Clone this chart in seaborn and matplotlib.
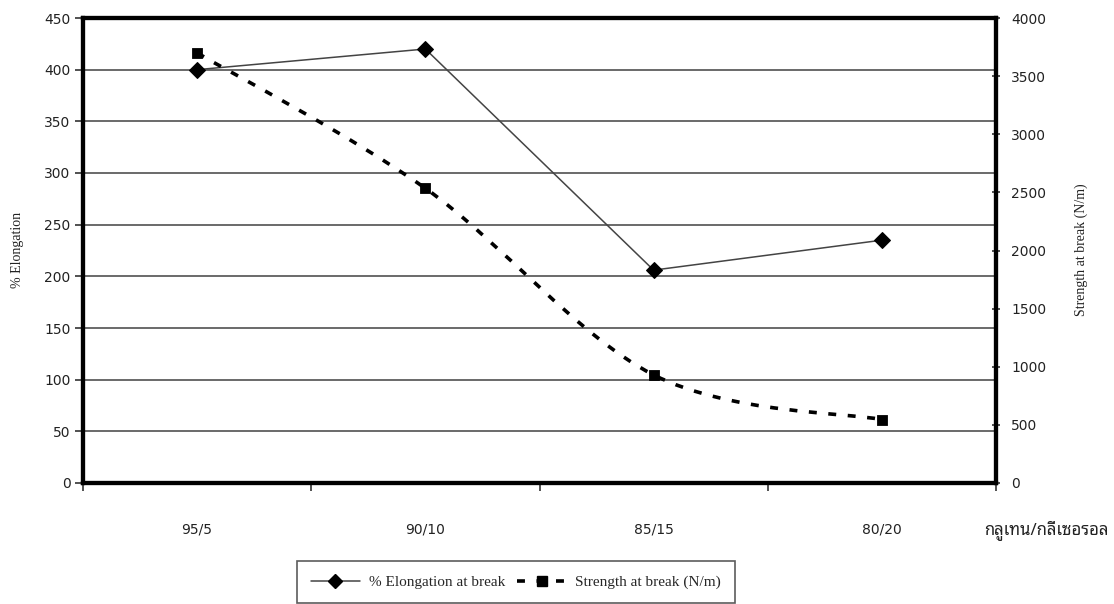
import numpy as np
import pandas as pd
import matplotlib
matplotlib.use("Agg")
import matplotlib.pyplot as plt
import seaborn as sns
from matplotlib.path import Path
from matplotlib.patches import PathPatch
from matplotlib.lines import Line2D
from matplotlib import font_manager as fm

categories = ["95/5", "90/10", "85/15", "80/20"]
elongation = [400, 420, 206, 235]
strength = [3700, 2535, 930, 545]
left_ticks = [0, 50, 100, 150, 200, 250, 300, 350, 400, 450]
right_ticks = [0, 500, 1000, 1500, 2000, 2500, 3000, 3500, 4000]
x_title = "กลูเทน/กลีเซอรอล"

sns.set_theme(style="white")
plt.rcParams['font.family'] = ['DejaVu Sans', 'Noto Sans', 'Liberation Sans']

installed = {f.name for f in fm.fontManager.ttflist}
thai_font = None
for cand in ["Noto Sans Thai Looped", "Noto Sans Thai", "Sarabun", "Anuphan", "Athiti"]:
    if cand in installed:
        thai_font = cand
        break
thai_family = [thai_font, 'DejaVu Sans'] if thai_font else ['DejaVu Sans']

fig = plt.figure(figsize=(11.14, 6.04), dpi=100)
ax = fig.add_axes([83/1114, 1-483/604, (996-83)/1114, (483-18)/604])
ax2 = ax.twinx()

x = np.arange(len(categories))
df = pd.DataFrame({"x": x, "elong": elongation, "strength": strength})

ax.set_xlim(-0.5, len(categories) - 0.5)
ax.set_ylim(0, 450)
ax2.set_ylim(0, 4000)

for t in left_ticks[1:-1]:
    ax.axhline(t, color="#5e5e5e", lw=1.3, zorder=0)

sns.lineplot(data=df, x="x", y="elong", ax=ax, color="#444444", lw=1.1,
             marker="D", markersize=8, markerfacecolor="black",
             markeredgecolor="black", zorder=3)

# smoothed strength curve (Catmull-Rom via Bezier)
P = np.column_stack([x.astype(float), np.array(strength, float)])
verts = [tuple(P[0])]
codes = [Path.MOVETO]
n = len(P)
for i in range(n - 1):
    p0 = P[i - 1] if i > 0 else P[i]
    p1 = P[i]
    p2 = P[i + 1]
    p3 = P[i + 2] if i + 2 < n else P[i + 1]
    c1 = p1 + (p2 - p0) / 6.0
    c2 = p2 - (p3 - p1) / 6.0
    verts += [tuple(c1), tuple(c2), tuple(p2)]
    codes += [Path.CURVE4] * 3
patch = PathPatch(Path(verts, codes), facecolor="none", edgecolor="black",
                  lw=2.6, linestyle=(0, (2.2, 3.2)), zorder=3)
ax2.add_patch(patch)
sns.scatterplot(data=df, x="x", y="strength", ax=ax2, marker="s", s=55,
                color="black", edgecolor="black", zorder=4, legend=False)

ax.set_xticks(np.arange(-0.5, len(categories), 1.0))
ax.set_xticklabels([])
ax.tick_params(axis="x", bottom=True, length=6, width=1.2, color="#333333", direction="out")
for xi, lab in zip(x, categories):
    ax.text(xi, -0.1, lab, transform=ax.get_xaxis_transform(), ha="center",
            va="center", fontsize=10, color="#222222")
fig.text(1046/1114, 1-530/604, x_title, ha="center", va="center",
         fontsize=12, color="#222222", family=thai_family)

ax.set_yticks(left_ticks)
ax.tick_params(axis="y", left=True, length=6, width=1.2, color="#333333",
               labelsize=10, labelcolor="#222222", pad=3)
ax2.set_yticks(right_ticks)
ax2.tick_params(axis="y", right=True, length=6, width=1.2, color="#333333",
                labelsize=10, labelcolor="#222222", direction="inout", pad=8)
ax.set_xlabel("")
ax.set_ylabel("")
ax2.set_ylabel("")
ax2.set_xlabel("")
fig.text(18/1114, 1-250/604, "% Elongation", rotation=90, ha="center", va="center",
         fontsize=10, family="Liberation Serif", color="#222222")
fig.text(1081/1114, 1-250/604, "Strength at break (N/m)", rotation=90, ha="center",
         va="center", fontsize=10, family="Liberation Serif", color="#222222")

for a in (ax, ax2):
    for s in a.spines.values():
        s.set_color("black")
        s.set_linewidth(3)
    a.grid(False)

handles = [
    Line2D([], [], color="#444444", lw=1.1, marker="D", markersize=7,
           markerfacecolor="black", markeredgecolor="black"),
    Line2D([], [], color="black", lw=2.6, linestyle=(0, (2.2, 3.2)), marker="s",
           markersize=7, markerfacecolor="black"),
]
leg = fig.legend(handles, ["% Elongation at break", "Strength at break (N/m)"],
                 loc="lower left", bbox_to_anchor=(297/1114, 0.002), ncol=2,
                 frameon=True, fancybox=False, edgecolor="#333333",
                 prop={"family": "Liberation Serif", "size": 11},
                 handlelength=3.2, columnspacing=0.8, borderpad=0.9,
                 handletextpad=0.6, borderaxespad=0)
leg.get_frame().set_linewidth(1.2)

fig.savefig("out.png", dpi=100)
